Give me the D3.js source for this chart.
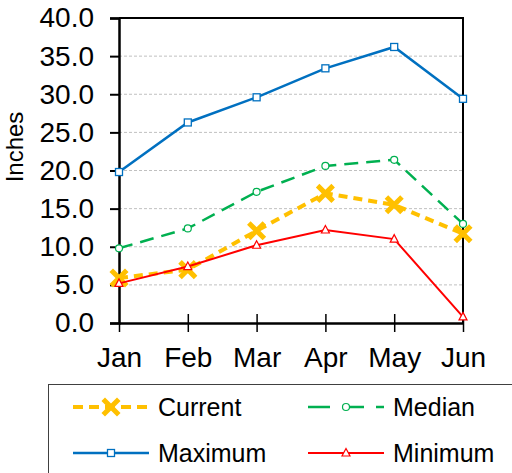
<!DOCTYPE html>
<html>
<head>
<meta charset="utf-8">
<script src="https://cdn.jsdelivr.net/npm/d3@7"></script>
<style>
  body { margin: 0; background: #fff; }
  svg { display: block; font-family: "Liberation Sans", Arial, sans-serif; }
</style>
</head>
<body>
<svg width="512" height="473"></svg>
<script>
var months = ["Jan", "Feb", "Mar", "Apr", "May", "Jun"];
var yTicks = [0, 5, 10, 15, 20, 25, 30, 35, 40];
var current = [5.9, 7.0, 12.1, 17.0, 15.5, 11.7];
var median = [9.8, 12.4, 17.2, 20.6, 21.4, 13.0];
var maximum = [19.8, 26.3, 29.6, 33.4, 36.2, 29.4];
var minimum = [5.2, 7.4, 10.2, 12.2, 11.0, 0.8];

(function () {
    'use strict';

    var series = [
        {name: "Current", values: current, color: "#FFC000", width: 4, dash: "9,6", marker: "x"},
        {name: "Median", values: median, color: "#00B050", width: 2.5, dash: "14,8", marker: "circle"},
        {name: "Maximum", values: maximum, color: "#0070C0", width: 2.5, dash: null, marker: "square"},
        {name: "Minimum", values: minimum, color: "#FF0000", width: 2, dash: null, marker: "triangle"}
    ];

    var svg = d3.select("svg");
    var plotLeft = 119, plotRight = 463, plotTop = 18, plotBottom = 323;

    var x = d3.scalePoint().domain(months).range([plotLeft, plotRight]).padding(0);
    var y = d3.scaleLinear().domain([0, 40]).range([plotBottom, plotTop]);

    // grid
    svg.append("g")
        .selectAll("line")
        .data(yTicks.filter(function (d) { return d > 0 && d < 40; }))
        .enter().append("line")
        .attr("x1", plotLeft).attr("x2", plotRight)
        .attr("y1", function (d) { return y(d); })
        .attr("y2", function (d) { return y(d); })
        .attr("stroke", "#c0c0c0")
        .attr("stroke-width", 1)
        .attr("stroke-dasharray", "3,2");

    // frame top/right
    svg.append("path")
        .attr("d", "M" + plotLeft + "," + plotTop + "H" + plotRight + "V" + plotBottom)
        .attr("fill", "none")
        .attr("stroke", "#000")
        .attr("stroke-width", 2);

    // y axis
    var yAxis = svg.append("g")
        .attr("transform", "translate(" + plotLeft + ",0)")
        .call(d3.axisLeft(y).tickValues(yTicks).tickSize(9).tickPadding(16)
            .tickFormat(function (d) { return d.toFixed(1); }));
    yAxis.select(".domain").attr("stroke", "#000").attr("stroke-width", 2.5);
    yAxis.selectAll(".tick line").attr("stroke", "#000").attr("stroke-width", 2);
    yAxis.selectAll(".tick text").attr("font-size", 28).attr("fill", "#000")
        .attr("font-family", "Liberation Sans, Arial, sans-serif");

    // x axis
    var xAxis = svg.append("g")
        .attr("transform", "translate(0," + plotBottom + ")")
        .call(d3.axisBottom(x).tickSizeInner(9).tickSizeOuter(0).tickPadding(15));
    xAxis.select(".domain").attr("stroke", "#000").attr("stroke-width", 2.5);
    xAxis.selectAll(".tick line").attr("stroke", "#000").attr("stroke-width", 1.5)
        .attr("y1", function (d, i) { return i === 0 ? 0 : -9; });
    xAxis.selectAll(".tick text").attr("font-size", 28).attr("fill", "#000")
        .attr("font-family", "Liberation Sans, Arial, sans-serif");

    // y label
    svg.append("text")
        .attr("transform", "translate(23,147) rotate(-90)")
        .attr("text-anchor", "middle")
        .attr("font-size", 24)
        .attr("fill", "#000")
        .text("Inches");

    var line = d3.line()
        .x(function (d, i) { return x(months[i]); })
        .y(function (d) { return y(d); });

    function drawMarker(g, type, color, cx, cy) {
        if (type === "x") {
            var s = 6;
            g.append("path")
                .attr("d", "M" + (cx - s) + "," + (cy - s) + "L" + (cx + s) + "," + (cy + s) +
                    "M" + (cx - s) + "," + (cy + s) + "L" + (cx + s) + "," + (cy - s))
                .attr("stroke", color).attr("stroke-width", 5).attr("stroke-linecap", "square");
        } else if (type === "circle") {
            g.append("circle").attr("cx", cx).attr("cy", cy).attr("r", 3.5)
                .attr("fill", "#fff").attr("stroke", color).attr("stroke-width", 1.2);
        } else if (type === "square") {
            g.append("rect").attr("x", cx - 3.5).attr("y", cy - 3.5)
                .attr("width", 7).attr("height", 7)
                .attr("fill", "#fff").attr("stroke", color).attr("stroke-width", 1.3);
        } else if (type === "triangle") {
            g.append("path")
                .attr("d", "M" + cx + "," + (cy - 4.5) + "L" + (cx + 4) + "," + (cy + 3) +
                    "L" + (cx - 4) + "," + (cy + 3) + "Z")
                .attr("fill", "#fff").attr("stroke", color).attr("stroke-width", 1.2);
        }
    }

    // draw series back to front: Maximum, Median, Current, Minimum
    [2, 1, 0, 3].forEach(function (k) {
        var s = series[k];
        var g = svg.append("g");
        g.append("path")
            .datum(s.values)
            .attr("fill", "none")
            .attr("stroke", s.color)
            .attr("stroke-width", s.width)
            .attr("stroke-dasharray", s.dash)
            .attr("d", line);
        s.values.forEach(function (v, i) {
            drawMarker(g, s.marker, s.color, x(months[i]), y(v));
        });
    });

    // legend
    var legend = svg.append("g");
    legend.append("rect")
        .attr("x", 48.5).attr("y", 384.5)
        .attr("width", 480).attr("height", 100)
        .attr("fill", "#fff").attr("stroke", "#404040").attr("stroke-width", 1);

    var legendPos = [
        {x: 73, y: 407}, {x: 308, y: 407},
        {x: 73, y: 453}, {x: 308, y: 453}
    ];
    series.forEach(function (s, i) {
        var p = legendPos[i];
        var g = legend.append("g");
        g.append("line")
            .attr("x1", p.x).attr("x2", p.x + 76)
            .attr("y1", p.y).attr("y2", p.y)
            .attr("stroke", s.color)
            .attr("stroke-width", s.width)
            .attr("stroke-dasharray", s.dash ? (s.marker === "x" ? "10,6" : "22,12") : null);
        drawMarker(g, s.marker, s.color, p.x + 38, p.y);
        g.append("text")
            .attr("x", p.x + 85).attr("y", p.y + 9)
            .attr("font-size", 25)
            .attr("fill", "#000")
            .text(s.name);
    });
})();
</script>
</body>
</html>
